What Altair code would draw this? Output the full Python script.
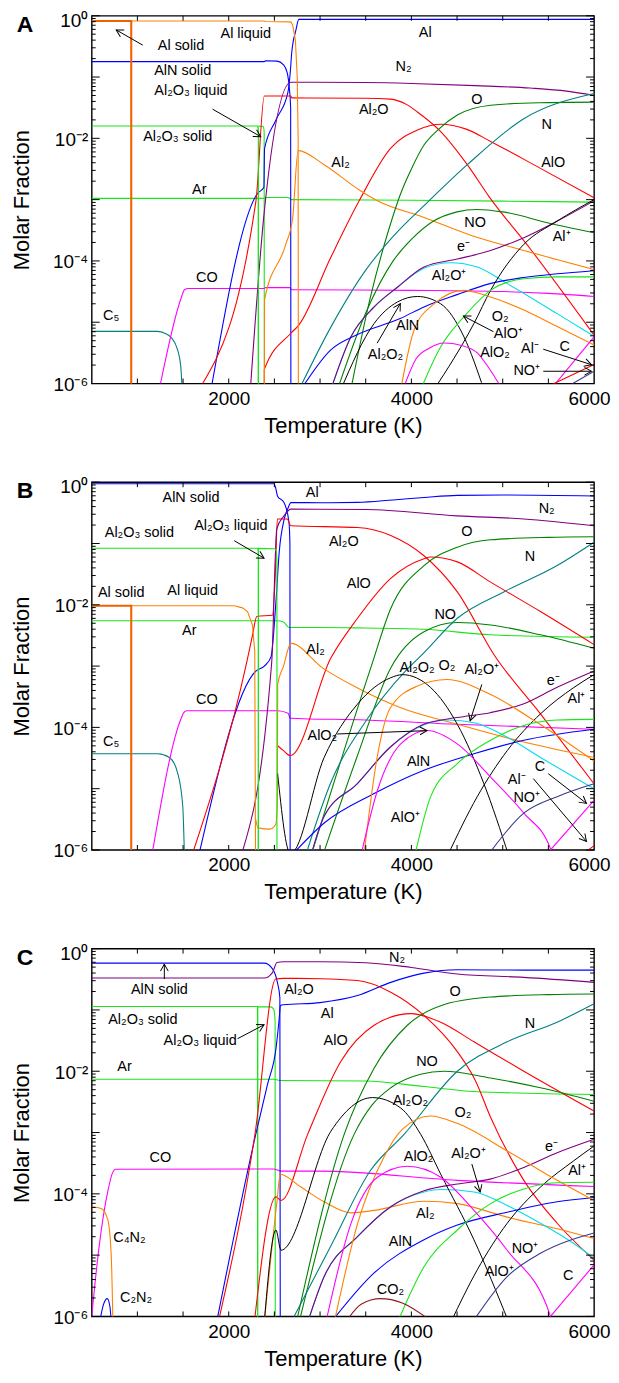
import math
import altair as alt
import pandas as pd

# ------------------------------------------------------------------
# Values: (temperature K, log10 molar fraction)
# ------------------------------------------------------------------
# Panel A
A_AL_SOLID = [(500,-0.086),(933,-0.086),(933,-7)]
A_AL_LIQUID = [(933,-7),(933,-0.086),(2390,-0.086),(2400,-0.095),(2680,-0.10),(2700,-0.15),(2730,-0.4),(2750,-1.0),(2760,-2.0),(2763,-7)]
A_ALN_SOLID = [(500,-0.749),(2390,-0.749),(2400,-0.735),(2530,-0.74),(2600,-0.80),(2640,-0.93),(2665,-1.2),(2678,-1.5),(2681,-7)]
A_AL = [(1818,-6),(2315,-2.9),(2385,-2.8),(2392,-2.17),(2517,-1.70),(2648,-1.25),(2675,-0.9),(2690,-0.6),(2735,-0.24),(2768,-0.06),(6000,-0.06)]
A_AL2O3_SOLID = [(500,-1.80),(2318,-1.80),(2324,-1.9),(2324,-7)]
A_AL2O3_LIQUID = [(2324,-7),(2326,-1.80),(2380,-1.81),(2388,-1.9),(2390,-7)]
A_AR = [(500,-2.98),(2390,-2.98),(2400,-2.965),(2650,-2.965),(2690,-3.0),(4000,-3.01),(5000,-3.025),(6000,-3.04)]
A_CO = [(1253,-6),(1480,-4.6),(1515,-4.47),(1560,-4.45),(2390,-4.45),(2400,-4.435),(2670,-4.435),(2690,-4.47),(4000,-4.48),(5000,-4.5),(5500,-4.53),(6000,-4.58)]
A_C5 = [(500,-5.15),(1220,-5.15),(1300,-5.18),(1370,-5.25),(1440,-5.45),(1475,-5.72),(1490,-6.1)]
A_AL2O = [(1715,-6),(2298,-3.02),(2390,-1.31),(2680,-1.31),(2690,-1.34),(3500,-1.345),(3770,-1.36),(3950,-1.45),(4066,-1.57),(4321,-1.89),(4612,-2.43),(4850,-2.95),(5305,-3.81),(6000,-5.21)]
A_ALO = [(2388,-7),(2390,-5.77),(2681,-5.18),(2765,-5.05),(3118,-3.94),(3428,-3.02),(3774,-2.16),(4066,-1.865),(4320,-1.77),(4600,-1.85),(4867,-2.05),(5413,-2.49),(6000,-2.97)]
A_N2 = [(2237,-6.1),(2389,-3.2),(2681,-1.084),(3500,-1.09),(4000,-1.105),(4700,-1.14),(5300,-1.18),(5700,-1.23),(6000,-1.30)]
A_O = [(3337,-6.1),(3550,-4.6),(3750,-3.5),(3883,-2.9),(4000,-2.5),(4138,-2.11),(4300,-1.85),(4503,-1.62),(4867,-1.46),(5400,-1.42),(6000,-1.41)]
A_NO = [(3191,-6.1),(3500,-4.85),(3800,-4.0),(4000,-3.65),(4243,-3.35),(4500,-3.2),(4717,-3.16),(5000,-3.2),(5500,-3.38),(6000,-3.54)]
A_N = [(2770,-6.1),(3118,-5.08),(3500,-4.15),(3800,-3.6),(4193,-3.02),(4612,-2.43),(5231,-1.68),(6000,-1.27)]
A_E = [(3118,-6.1),(3337,-5.24),(3592,-4.75),(3847,-4.43),(4138,-4.10),(4503,-3.97),(4867,-3.83),(5231,-3.62),(5596,-3.35),(6000,-3.02)]
A_AL2OP = [(3118,-6.1),(3337,-5.24),(3592,-4.75),(3847,-4.43),(4138,-4.12),(4430,-4.03),(4721,-4.10),(5049,-4.37),(5596,-4.86),(6000,-5.23)]
A_ALN = [(2790,-6.1),(3118,-5.45),(3410,-5.2),(3877,-4.94),(4138,-4.75),(4500,-4.55),(4862,-4.37),(5231,-4.27),(5596,-4.21),(6000,-4.16)]
A_ALP = [(4248,-6.1),(4685,-5.02),(4867,-4.48),(5231,-3.73),(5596,-3.35),(6000,-3.0)]
A_AL2O2 = [(3227,-6.1),(3592,-5.02),(3847,-4.67),(4066,-4.58),(4321,-4.70),(4576,-5.24),(4794,-6.1)]
A_O2 = [(3883,-6.1),(4029,-5.13),(4248,-4.70),(4576,-4.48),(4867,-4.59),(5231,-4.80),(5596,-5.07),(6000,-5.37)]
A_AL2 = [(2390,-7),(2392,-4.64),(2620,-3.75),(2700,-3.3),(2760,-2.20),(3045,-2.43),(3446,-2.86),(3628,-3.02),(4138,-3.29),(4649,-3.58),(5231,-3.83),(6000,-4.14)]
A_ALOP = [(4102,-6.1),(4321,-5.4),(4576,-4.91),(4867,-4.48),(5231,-4.29),(5600,-4.26),(6000,-4.26)]
A_ALO2 = [(3920,-6.05),(4050,-5.6),(4200,-5.42),(4357,-5.34),(4550,-5.38),(4721,-5.5),(4850,-5.75),(4977,-6.05)]
A_C = [(5523,-6.1),(6000,-5.24)]
A_ALM = [(5420,-6.1),(6000,-5.69)]
A_NOP = [(5650,-6.1),(6000,-5.8)]

# Panel B
B_AL_SOLID = [(500,-2.016),(933,-2.016),(933,-7)]
B_AL_LIQUID = [(933,-7),(933,-2.016),(2062,-2.016),(2150,-2.05),(2206,-2.11),(2260,-2.33),(2285,-2.76),(2296,-7)]
B_ALN_SOLID = [(500,-0.026),(2496,-0.026),(2515,-0.1),(2535,-0.23),(2605,-0.33),(2660,-0.66),(2670,-1.0),(2673,-7)]
B_AL = [(1686,-6),(2298,-3.08),(2390,-3.0),(2463,-2.85),(2517,-1.95),(2553,-1.14),(2608,-0.60),(2650,-0.42),(2681,-0.333),(3000,-0.335),(3410,-0.33),(3800,-0.29),(4138,-0.25),(4503,-0.215),(5000,-0.21),(6000,-0.226)]
B_AL2O3_SOLID = [(500,-1.078),(2320,-1.078),(2324,-1.2),(2324,-7)]
B_AL2O3_LIQUID = [(2324,-7),(2326,-1.08),(2505,-1.085),(2522,-1.12),(2528,-1.3),(2528,-7)]
B_AR = [(500,-2.26),(2535,-2.26),(2600,-2.28),(2660,-2.37),(3000,-2.37),(3500,-2.38),(4138,-2.40),(4867,-2.49),(6000,-2.53)]
B_CO = [(1169,-6),(1480,-3.85),(1508,-3.76),(1540,-3.73),(2535,-3.73),(2650,-3.77),(2673,-3.85),(3500,-3.88),(4503,-3.95),(6000,-4.03)]
B_C5 = [(500,-4.43),(1223,-4.43),(1351,-4.49),(1442,-4.75),(1497,-5.29),(1515,-6.1)]
B_AL2O = [(1617,-6),(2195,-2.95),(2260,-2.5),(2307,-2.19),(2479,-2.17),(2510,-1.5),(2533,-0.60),(2640,-0.60),(2681,-0.71),(3410,-0.74),(3774,-0.87),(4138,-1.20),(4503,-1.79),(4903,-2.81),(5413,-3.78),(6000,-4.92)]
B_ALO = [(2535,-4.30),(2600,-4.38),(2673,-4.46),(3118,-2.87),(3410,-2.22),(3774,-1.57),(4138,-1.25),(4211,-1.22),(4503,-1.30),(4867,-1.63),(5413,-2.11),(6000,-2.65)]
B_N2 = [(2134,-6.1),(2470,-2.95),(2526,-0.765),(2605,-0.55),(2681,-0.44),(3500,-0.445),(4503,-0.55),(5231,-0.60),(6000,-0.71)]
B_O = [(2900,-6.1),(3555,-3.03),(3774,-2.06),(4138,-1.36),(4503,-1.06),(4867,-0.94),(5500,-0.9),(6000,-0.89)]
B_NO = [(3027,-6.1),(3400,-4.5),(3774,-3.03),(4138,-2.44),(4503,-2.29),(4867,-2.33),(5413,-2.49),(6000,-2.71)]
B_N = [(2840,-6.1),(3118,-4.9),(3500,-3.9),(3937,-3.08),(4120,-2.81),(4503,-2.22),(5012,-1.79),(5596,-1.36),(6000,-0.98)]
B_E = [(2899,-6.1),(3042,-5.46),(3406,-4.92),(3770,-4.32),(4134,-3.95),(4498,-3.84),(4862,-3.76),(5225,-3.62),(5590,-3.35),(6000,-3.08)]
B_AL2OP = [(2899,-6.1),(3042,-5.46),(3406,-4.92),(3770,-4.32),(4134,-3.96),(4400,-3.88),(4700,-3.93),(5049,-4.16),(5413,-4.49),(5778,-4.81),(6000,-5.0)]
B_ALP = [(4394,-6.1),(4721,-5.13),(5049,-4.38),(5413,-3.78),(5778,-3.35),(6000,-3.14)]
B_AL2O2 = [(2535,-4.75),(2673,-6.05),(2681,-6.05),(3045,-4.49),(3410,-3.62),(3774,-3.19),(3902,-3.14),(4211,-3.35),(4503,-3.95),(4794,-4.92),(5067,-6.1)]
B_ALO2 = [(3446,-6.1),(3628,-5.03),(3883,-4.27),(4175,-4.05),(4503,-4.27),(4867,-4.81),(5231,-5.40),(5523,-5.98),(5530,-6.1)]
B_C = [(5523,-6.0),(6000,-5.19)]
B_ALOP = [(4036,-6.1),(4211,-5.13),(4503,-4.59),(4867,-4.21),(5231,-3.97),(5596,-3.88),(6000,-3.87)]
B_ALN = [(2681,-6.1),(3045,-5.56),(3592,-5.08),(4138,-4.70),(4685,-4.43),(5231,-4.21),(6000,-4.03)]
B_AL2 = [(2296,-5.5),(2320,-5.64),(2450,-5.66),(2515,-5.58),(2533,-5.2),(2536,-3.3),(2600,-3.0),(2681,-2.63),(3027,-3.03),(3400,-3.35),(3883,-3.68),(4503,-3.95),(5231,-4.24),(6000,-4.49)]
B_O2 = [(3479,-6.1),(3625,-4.49),(3770,-3.68),(4061,-3.33),(4389,-3.22),(4862,-3.46),(5408,-3.95),(6000,-4.55)]
B_NOP = [(4831,-6.1),(5231,-5.40),(5596,-5.13),(6000,-4.92)]
B_ALM = [(5850,-6.1),(6000,-5.93)]

# Panel C
C_ALN_SOLID = [(500,-0.237),(2389,-0.237),(2479,-0.33),(2533,-0.55),(2560,-0.8),(2565,-7)]
C_N2 = [(500,-0.479),(2389,-0.479),(2479,-0.39),(2528,-0.226),(2600,-0.215),(3000,-0.215),(3500,-0.23),(4000,-0.307),(4503,-0.414),(5231,-0.469),(6000,-0.55)]
C_AL2O = [(1900,-6),(2290,-3.0),(2515,-0.495),(2600,-0.485),(3000,-0.49),(3410,-0.52),(3774,-0.71),(4138,-1.09),(4503,-1.68),(4700,-2.15),(4867,-2.75),(5231,-3.78),(5596,-4.48),(6000,-5.08)]
C_AL = [(1880,-6),(2296,-3.03),(2424,-2.22),(2520,-1.6),(2555,-1.1),(2565,-0.93),(2600,-0.916),(3000,-0.88),(3410,-0.765),(3774,-0.55),(4138,-0.40),(4503,-0.345),(5231,-0.35),(6000,-0.35)]
C_AL2O3_SOLID = [(500,-0.943),(2315,-0.943),(2317,-7)]
C_AL2O3_LIQUID = [(2317,-7),(2318,-0.95),(2460,-0.95),(2495,-1.0),(2508,-1.2),(2510,-7)]
C_AR = [(500,-2.13),(2490,-2.13),(2560,-2.15),(3500,-2.16),(4138,-2.25),(4685,-2.33),(6000,-2.38)]
C_CO = [(500,-6.0),(568,-5.02),(677,-3.95),(730,-3.65),(760,-3.6),(2490,-3.595),(2572,-3.63),(3000,-3.63),(4503,-3.78),(6000,-3.88)]
C_C4N2 = [(500,-4.21),(604,-4.24),(677,-4.43),(714,-5.02),(732,-6.1)]
C_C2N2 = [(586,-6.1),(630,-5.8),(670,-5.71),(700,-5.85),(714,-6.1)]
C_ALO = [(2280,-6.1),(2517,-4.05),(2572,-4.11),(2864,-3.03),(3227,-1.84),(3592,-1.25),(3993,-1.06),(4321,-1.20),(4685,-1.52),(5231,-2.0),(6000,-2.65)]
C_AL2O2 = [(2389,-6.1),(2517,-4.59),(2572,-4.92),(3118,-2.98),(3574,-2.43),(3883,-2.60),(4102,-3.03),(4321,-3.68),(4685,-4.75),(5067,-6.1)]
C_AL2 = [(2389,-6.1),(2528,-4.13),(2564,-3.68),(2790,-3.89),(3045,-4.13),(3337,-4.31),(3592,-4.27),(4138,-4.12),(4503,-4.16),(5049,-4.38),(5596,-4.57),(6000,-4.73)]
C_O2 = [(3155,-6.1),(3410,-4.49),(3700,-3.4),(3900,-2.95),(4211,-2.73),(4500,-2.85),(5049,-3.30),(5596,-3.78),(6000,-4.11)]
C_O = [(2740,-6.1),(3264,-3.03),(3592,-1.95),(3956,-1.25),(4321,-0.93),(4862,-0.79),(5500,-0.75),(6000,-0.74)]
C_NO = [(2770,-6.1),(3373,-3.03),(3570,-2.55),(3774,-2.27),(4100,-2.05),(4357,-2.0),(4867,-2.11),(5413,-2.27),(6000,-2.49)]
C_N = [(2681,-6.1),(3118,-4.85),(3552,-3.62),(3920,-3.03),(4503,-2.0),(5049,-1.52),(5596,-1.20),(6000,-0.90)]
C_E = [(2864,-6.1),(3045,-5.35),(3410,-4.70),(3774,-4.21),(4138,-3.95),(4503,-3.84),(4862,-3.76),(5231,-3.57),(5596,-3.33),(6000,-3.11)]
C_AL2OP = [(2864,-6.1),(3045,-5.35),(3410,-4.70),(3774,-4.21),(4138,-3.97),(4321,-3.93),(4685,-3.97),(5049,-4.19),(5413,-4.48),(5778,-4.81),(6000,-5.05)]
C_ALP = [(4430,-6.1),(4721,-5.24),(5049,-4.48),(5413,-3.89),(5778,-3.46),(6000,-3.22)]
C_ALO2 = [(3063,-6.1),(3337,-4.49),(3628,-3.73),(3956,-3.55),(4321,-3.73),(4685,-4.27),(5049,-4.92),(5523,-6.0),(5530,-6.1)]
C_C = [(5523,-6.0),(6000,-5.16)]
C_ALOP = [(3847,-6.1),(4138,-5.19),(4503,-4.59),(4867,-4.16),(5231,-3.92),(5596,-3.82),(6000,-3.81)]
C_ALN = [(3118,-6.1),(3592,-5.29),(4138,-4.75),(4503,-4.51),(5049,-4.30),(5596,-4.13),(6000,-4.06)]
C_NOP = [(4667,-6.1),(5049,-5.35),(5413,-4.97),(6000,-4.64)]
C_CO2 = [(3301,-6.05),(3450,-5.8),(3664,-5.71),(3900,-5.78),(4193,-6.05)]

# Annotation texts (label, T, log10 y) and arrows (T1, logy1, T2, logy2)
A_LABELS = [("Al solid",1478,-0.49),("Al liquid",2187,-0.302),("AlN solid",1496,-0.906),
            ("Al₂O₃ liquid",1587,-1.234),("Al₂O₃ solid",1442,-1.973),("Ar",1677,-2.835),
            ("CO",1761,-4.275),("C₅",713,-4.90),("Al",4152,-0.275),("N₂",3915,-0.841),
            ("Al₂O",3588,-1.541),("O",4717,-1.38),("N",5481,-1.784),("AlO",5553,-2.405),
            ("Al₂",3224,-2.405),("NO",4698,-3.375),("e⁻",4570,-3.78),("Al⁺",5645,-3.618),
            ("Al₂O⁺",4413,-4.254),("AlN",3959,-5.062),("Al₂O₂",3716,-5.531),("O₂",4971,-4.912),
            ("AlO⁺",5062,-5.19),("AlO₂",4916,-5.50),("Al⁻",5298,-5.44),("C",5680,-5.40),
            ("NO⁺",5263,-5.80)]
A_ARROWS = [(1059,-0.48,768,-0.231),(1824,-1.525,2351,-1.973),(3625,-5.342,3879,-4.695),
            (4898,-5.154,4570,-4.90),(5444,-5.44,5972,-5.693),(5444,-5.80,5972,-5.80)]

B_LABELS = [("AlN solid",1587,-0.252),("Al",2915,-0.183),("Al₂O₃ liquid",2023,-0.712),
            ("Al₂O₃ solid",1022,-0.835),("Al solid",823,-1.80),("Al liquid",1605,-1.779),
            ("Ar",1568,-2.436),("Al₂",2951,-2.733),("N₂",5481,-0.442),("Al₂O",3260,-0.98),
            ("O",4607,-0.818),("N",5299,-1.223),("AlO",3424,-1.655),("NO",4371,-2.167),
            ("Al₂O₂",4062,-3.029),("O₂",4389,-3.0),("Al₂O⁺",4771,-3.057),("e⁻",5553,-3.244),
            ("Al⁺",5808,-3.542),("AlO₂",3025,-4.134),("AlN",4079,-4.566),("AlO⁺",3934,-5.483),
            ("C",5407,-4.647),("Al⁻",5153,-4.862),("NO⁺",5263,-5.159),("CO",1761,-3.552),
            ("C₅",713,-4.242)]
B_ARROWS = [(2060,-0.954,2387,-1.239),(4771,-3.30,4643,-3.891),(3188,-4.108,4171,-4.053),
            (5498,-4.755,5917,-5.24),(5335,-4.836,5917,-5.86)]

C_LABELS = [("AlN solid",1241,-0.673),("Al₂O₃ solid",1060,-1.158),("Al₂O₃ liquid",1688,-1.509),
            ("Ar",859,-1.925),("Al₂O",2769,-0.673),("Al",3079,-1.061),("N₂",3843,-0.146),
            ("O",4480,-0.712),("N",5299,-1.223),("AlO",3170,-1.509),("NO",4171,-1.844),
            ("Al₂O₂",3989,-2.482),("O₂",4564,-2.678),("CO",1252,-3.422),("C₄N₂",913,-4.727),
            ("C₂N₂",986,-5.697),("AlO₂",4079,-3.406),("Al₂O⁺",4625,-3.352),("e⁻",5535,-3.235),
            ("Al⁺",5815,-3.623),("Al₂",4152,-4.323),("AlN",3880,-4.781),("NO⁺",5244,-4.905),
            ("AlO⁺",4961,-5.282),("C",5717,-5.337),("CO₂",3770,-5.564)]
C_ARROWS = [(1295,-0.495,1295,-0.252),(2097,-1.469,2387,-1.242),(4662,-3.514,4753,-3.972)]

X_DOMAIN = [500, 6000]
X_TICKS = [1000, 1500, 2000, 2500, 3000, 3500, 4000, 4500, 5000, 5500]
X_LABELS = [2000, 4000, 6000]
Y_DECADES = [-6, -5, -4, -3, -2, -1, 0]
Y_LABEL_TEXT = [("10⁻⁶", -6), ("10⁻⁴", -4), ("10⁻²", -2)]
Y_TOP_LABEL = [("10⁰", 0)]
Y_MINOR = [2, 3, 4, 5, 6, 7, 8, 9]

# ------------------------------------------------------------------
# Styles
# ------------------------------------------------------------------
W, H = 504, 369
SPACING = 99
FONT = "Liberation Sans"
ORANGE, BLUE, GREEN, DGREEN = "#ff8000", "#0000ff", "#19e619", "#008000"
TEAL, PURPLE, RED, MAGENTA = "#008080", "#800080", "#ff0000", "#ff00ff"
BLACK, CYAN, NAVY, MAROON = "#000000", "#00dcee", "#3a3a8c", "#8b1a1a"
STYLE = {
    "Al solid": ("#f06000", 2.0), "Al liquid": (ORANGE, 1.1), "AlN solid": (BLUE, 1.1),
    "Al": (BLUE, 1.1), "Al2O3 solid": (GREEN, 1.1), "Al2O3 liquid": (GREEN, 1.1),
    "Ar": (GREEN, 1.1), "CO": (MAGENTA, 1.1), "C5": (TEAL, 1.1), "Al2O": (RED, 1.1),
    "AlO": (RED, 1.1), "N2": (PURPLE, 1.1), "O": (DGREEN, 1.1), "NO": (DGREEN, 1.1),
    "N": (TEAL, 1.1), "e-": (PURPLE, 1.1), "Al2O+": (CYAN, 1.1), "AlN": (BLUE, 1.1),
    "Al+": (BLACK, 1.0), "Al2O2": (BLACK, 1.0), "O2": (ORANGE, 1.1), "Al2": (ORANGE, 1.1),
    "AlO+": (GREEN, 1.1), "AlO2": (MAGENTA, 1.1), "C": (MAGENTA, 1.1), "Al-": (RED, 1.1),
    "NO+": (NAVY, 1.1), "C4N2": (ORANGE, 1.1), "C2N2": (BLUE, 1.1), "CO2": (MAROON, 1.1),
}

PANEL_A = [("Ar", A_AR), ("Al2O3 solid", A_AL2O3_SOLID), ("Al2O3 liquid", A_AL2O3_LIQUID),
           ("C5", A_C5), ("CO", A_CO), ("AlN solid", A_ALN_SOLID), ("Al liquid", A_AL_LIQUID),
           ("Al", A_AL), ("Al2O", A_AL2O), ("AlO", A_ALO), ("N2", A_N2), ("Al2", A_AL2),
           ("O", A_O), ("NO", A_NO), ("N", A_N), ("Al2O+", A_AL2OP), ("e-", A_E), ("AlN", A_ALN),
           ("Al+", A_ALP), ("Al2O2", A_AL2O2), ("O2", A_O2), ("AlO+", A_ALOP), ("AlO2", A_ALO2),
           ("C", A_C), ("Al-", A_ALM), ("NO+", A_NOP), ("Al solid", A_AL_SOLID)]
PANEL_B = [("Ar", B_AR), ("Al2O3 solid", B_AL2O3_SOLID), ("Al2O3 liquid", B_AL2O3_LIQUID),
           ("C5", B_C5), ("CO", B_CO), ("AlN solid", B_ALN_SOLID), ("Al liquid", B_AL_LIQUID),
           ("Al", B_AL), ("Al2O", B_AL2O), ("AlO", B_ALO), ("N2", B_N2), ("Al2", B_AL2),
           ("O", B_O), ("NO", B_NO), ("N", B_N), ("Al2O+", B_AL2OP), ("e-", B_E), ("AlN", B_ALN),
           ("Al+", B_ALP), ("Al2O2", B_AL2O2), ("O2", B_O2), ("AlO+", B_ALOP), ("AlO2", B_ALO2),
           ("C", B_C), ("Al-", B_ALM), ("NO+", B_NOP), ("Al solid", B_AL_SOLID)]
PANEL_C = [("Ar", C_AR), ("Al2O3 solid", C_AL2O3_SOLID), ("Al2O3 liquid", C_AL2O3_LIQUID),
           ("CO", C_CO), ("C4N2", C_C4N2), ("C2N2", C_C2N2), ("AlN solid", C_ALN_SOLID),
           ("N2", C_N2), ("Al", C_AL), ("Al2O", C_AL2O), ("AlO", C_ALO), ("Al2", C_AL2),
           ("O", C_O), ("NO", C_NO), ("N", C_N), ("Al2O+", C_AL2OP), ("e-", C_E), ("AlN", C_ALN),
           ("Al+", C_ALP), ("Al2O2", C_AL2O2), ("O2", C_O2), ("AlO+", C_ALOP), ("AlO2", C_ALO2),
           ("C", C_C), ("NO+", C_NOP), ("CO2", C_CO2)]

XSCALE = alt.Scale(domain=X_DOMAIN, nice=False, zero=False)
YSCALE = alt.Scale(type="log", domain=[1e-6, 1], nice=False)
XAXIS = alt.Axis(values=X_LABELS, format="d", ticks=False, tickSize=0, domain=False, grid=False,
                 labelPadding=6, titlePadding=7, labelFlush=True, labelFlushOffset=16,
                 labelOverlap=False, title="Temperature (K)")
YAXIS = alt.Axis(labels=False, ticks=False, tickSize=0, domain=False, grid=False,
                 titlePadding=58, title="Molar Fraction")


def X(f):
    return alt.X(f, scale=XSCALE, axis=XAXIS)


def Y(f):
    return alt.Y(f, scale=YSCALE, axis=YAXIS)


ARROW_HEAD = "M -1 -0.55 L 0 0 L -1 0.55"


def panel(letter, series, labels, arrows):
    lin_rows, smooth_rows = [], []
    for k, (sp, pts) in enumerate(series):
        col, sw = STYLE[sp]
        ts = [p[0] for p in pts]
        dup = any(ts[i] == ts[i + 1] for i in range(len(ts) - 1))
        target = lin_rows if dup else smooth_rows
        for i, (t, e) in enumerate(pts):
            target.append(dict(key=f"{k:02d}", T=t, v=10.0 ** e, idx=i, col=col, sw=sw))
    layers = []
    for rows, interp in ((smooth_rows, "monotone"), (lin_rows, "linear")):
        layers.append(alt.Chart(pd.DataFrame(rows)).mark_line(clip=True, interpolate=interp).encode(
            x=X("T:Q"), y=Y("v:Q"), detail="key:N",
            color=alt.Color("col:N", scale=None),
            strokeWidth=alt.StrokeWidth("sw:Q", scale=None),
            order="idx:Q"))

    lab = pd.DataFrame([dict(label=s, T=t, v=10.0 ** e) for s, t, e in labels])
    layers.append(alt.Chart(lab).mark_text(font=FONT, fontSize=14.5, color="black").encode(
        x=X("T:Q"), y=Y("v:Q"), text="label:N"))

    arr = []
    for t1, e1, t2, e2 in arrows:
        dx = (t2 - t1) * W / (X_DOMAIN[1] - X_DOMAIN[0])
        dy = -(e2 - e1) * H / 6.0
        ang = math.degrees(math.atan2(dy, dx)) % 360
        arr.append(dict(T1=t1, v1=10.0 ** e1, T2=t2, v2=10.0 ** e2, ang=ang))
    arr = pd.DataFrame(arr)
    layers.append(alt.Chart(arr).mark_rule(color="black", strokeWidth=1).encode(
        x=X("T1:Q"), y=Y("v1:Q"), x2="T2:Q", y2="v2:Q"))
    layers.append(alt.Chart(arr).mark_point(shape=ARROW_HEAD, filled=False, color="black",
                                            strokeWidth=1, size=200, opacity=1).encode(
        x=X("T2:Q"), y=Y("v2:Q"), angle=alt.Angle("ang:Q", scale=None)))

    # axis ticks drawn inside the frame, on all four sides
    ymaj = pd.DataFrame({"v": [10.0 ** d for d in Y_DECADES]})
    ymin = pd.DataFrame({"v": [m * 10.0 ** d for d in Y_DECADES[:-1] for m in Y_MINOR]})
    xt = pd.DataFrame({"v": X_TICKS})
    for df, ln in ((ymaj, 8), (ymin, 4)):
        layers.append(alt.Chart(df).mark_rule(color="black", strokeWidth=1).encode(
            y=Y("v:Q"), x=alt.value(0), x2=alt.value(ln)))
        layers.append(alt.Chart(df).mark_rule(color="black", strokeWidth=1).encode(
            y=Y("v:Q"), x=alt.value(W - ln), x2=alt.value(W)))
    layers.append(alt.Chart(xt).mark_rule(color="black", strokeWidth=1).encode(
        x=X("v:Q"), y=alt.value(H - 5), y2=alt.value(H)))
    layers.append(alt.Chart(xt).mark_rule(color="black", strokeWidth=1).encode(
        x=X("v:Q"), y=alt.value(0), y2=alt.value(5)))

    # y tick labels
    for rows, dy in ((Y_LABEL_TEXT, 1.5), (Y_TOP_LABEL, 5)):
        df = pd.DataFrame([dict(t=s, v=10.0 ** d) for s, d in rows])
        layers.append(alt.Chart(df).mark_text(font=FONT, fontSize=19, align="right",
                                              baseline="middle", dy=dy, color="black").encode(
            y=Y("v:Q"), x=alt.value(-3.5), text="t:N"))

    layers.append(alt.Chart(pd.DataFrame({"t": [letter]})).mark_text(
        font=FONT, fontSize=23, fontWeight="bold", align="center", baseline="middle",
        color="black").encode(x=alt.value(-67), y=alt.value(9), text="t:N"))
    return alt.layer(*layers).properties(width=W, height=H)


chart = alt.vconcat(
    panel("A", PANEL_A, A_LABELS, A_ARROWS),
    panel("B", PANEL_B, B_LABELS, B_ARROWS),
    panel("C", PANEL_C, C_LABELS, C_ARROWS),
    spacing=SPACING, bounds="flush",
).properties(
    padding={"left": 2, "top": 0.5, "right": 0, "bottom": 0}
).configure_view(
    stroke="black", strokeWidth=1.4
).configure_axis(
    labelFont=FONT, titleFont=FONT, labelFontSize=19, titleFontSize=22,
    labelColor="black", titleColor="black", titleFontWeight="normal"
)

chart.save("out.html", embed_options={"renderer": "svg", "actions": False})
